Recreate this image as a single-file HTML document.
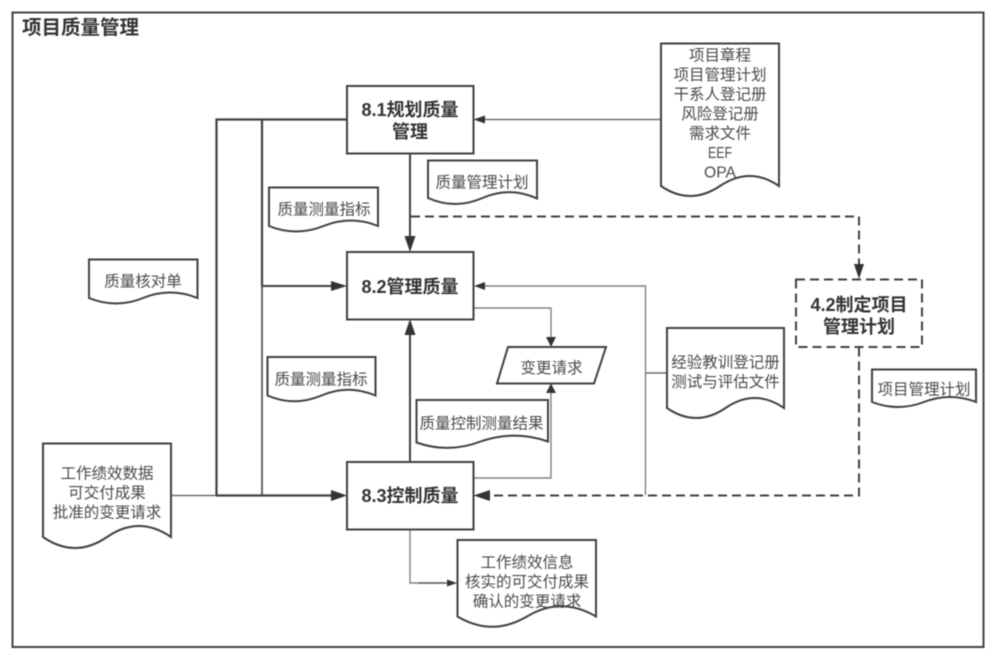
<!DOCTYPE html>
<html lang="zh"><head><meta charset="utf-8"><title>项目质量管理</title>
<style>
html,body{margin:0;padding:0;background:#fff}
svg{display:block;filter:blur(0.4px)}
text{font-family:"Liberation Sans","Noto Sans CJK SC",sans-serif;fill:#4a4a4a;font-size:15.5px;text-anchor:middle}
.b{font-weight:bold;font-size:18px;fill:#333}
.s{fill:none;stroke:#404040;stroke-width:2}
.t{fill:none;stroke:#555;stroke-width:1.2}
.g{fill:none;stroke:#808080;stroke-width:1.4}
.k{fill:none;stroke:#404040;stroke-width:2.2}
.d{fill:none;stroke:#404040;stroke-width:2;stroke-dasharray:9 5}
.a{fill:#333;stroke:none}
.n{fill:#fff;stroke:#404040;stroke-width:2}
</style></head><body>
<svg width="1000" height="656" viewBox="0 0 1000 656" xmlns="http://www.w3.org/2000/svg">
<rect x="0" y="0" width="1000" height="656" fill="#fff"/>
<rect x="12.5" y="12.5" width="971" height="634.5" fill="none" stroke="#444" stroke-width="2"/>
<text x="22" y="34" style="text-anchor:start;font-size:19.5px;font-weight:bold;fill:#333">项目质量管理</text>

<!-- connectors -->
<path class="t" d="M661 119.5H480"/>
<path class="a" d="M473.5 119.5L485 115.5V123.5Z"/>
<path class="k" d="M347 119.5H216.5V495.5"/>
<path class="k" d="M262 119.5V286"/>
<path class="s" d="M262 286V495.5" style="stroke:#555;stroke-width:1.8"/>
<path class="t" d="M171 495.5H216"/>
<path class="k" d="M216 495.5H335"/>
<path class="a" d="M347 495.5L331 490V501Z"/>
<path class="s" d="M262 286H335"/>
<path class="a" d="M347 286L331 281V291Z"/>
<path class="s" d="M410 153V240"/>
<path class="a" d="M410 252L404.500 236H415.500Z"/>
<path class="d" d="M411 216.500H859V266"/>
<path class="a" d="M859 279L854 264H864Z"/>
<path class="s" d="M410 462V331"/>
<path class="a" d="M410 319L404.500 335H415.500Z"/>
<path class="g" d="M473 308H551V340"/>
<path class="a" d="M551 347L546 337H556Z"/>
<path class="g" d="M473 478H551V391"/>
<path class="a" d="M551 383.500L546 393H556Z"/>
<path class="t" d="M667 373H645.500"/>
<path class="g" d="M645.500 495V286H482"/>
<path class="a" d="M474 286L485 282V290Z"/>
<path class="d" d="M859 347.500V495.500H490"/>
<path class="a" d="M473.500 495.500L490 490V501Z"/>
<path class="g" d="M410 529V583H445"/>
<path class="t" d="M418 583H447"/>
<path class="a" d="M457 583L447 579.500V586.500Z"/>

<!-- process boxes -->
<rect class="n" x="347" y="86" width="126.500" height="67.500"/>
<rect class="n" x="347" y="252" width="126.500" height="67.500"/>
<rect class="n" x="347" y="462" width="126.500" height="67.500"/>
<rect x="796" y="279.500" width="126" height="67.500" fill="#fff" stroke="#404040" stroke-width="2" stroke-dasharray="9 5"/>
<text class="b" x="410" y="116">8.1规划质量</text>
<text class="b" x="410" y="138">管理</text>
<text class="b" x="410" y="293">8.2管理质量</text>
<text class="b" x="410" y="502">8.3控制质量</text>
<text class="b" x="859" y="311">4.2制定项目</text>
<text class="b" x="859" y="333">管理计划</text>

<!-- parallelogram -->
<path class="n" d="M508 347H606L594 383.500H497Z"/>
<text x="551.500" y="373">变更请求</text>

<!-- documents -->
<path class="n" d="M661 43.500H779V186Q750 166 720 186Q690 206 661 186Z"/>
<text x="720" y="60.500">项目章程</text>
<text x="720" y="80">项目管理计划</text>
<text x="720" y="99.500">干系人登记册</text>
<text x="720" y="119">风险登记册</text>
<text x="720" y="138.500">需求文件</text>
<text x="720" y="158" textLength="24" lengthAdjust="spacingAndGlyphs">EEF</text>
<text x="720" y="177.500" textLength="32" lengthAdjust="spacingAndGlyphs">OPA</text>

<path class="n" d="M428 160.500H537V198.500Q510 186 482.500 198Q455 210 428 198Z"/>
<text x="482" y="187.500">质量管理计划</text>

<path class="n" d="M269 187.500H378V226Q351 215 323.500 226Q296 237 269 226Z"/>
<text x="324" y="214.500">质量测量指标</text>

<path class="n" d="M89 259.500H197.500V298Q170 287 143 298Q116 309 89 298Z"/>
<text x="143" y="286.500">质量核对单</text>

<path class="n" d="M267.500 357H375.500V395.500Q348 384 321.500 395.500Q294 407 267.500 395.500Z"/>
<text x="321" y="384.500">质量测量指标</text>

<path class="n" d="M416.500 400H548V441.500Q515 430 482 441Q449 454 416.500 442.500Z"/>
<text x="481.500" y="428.500">质量控制测量结果</text>

<path class="n" d="M43 443.500H171V537Q139 515 107 537Q75 559 43 537Z"/>
<text x="107" y="478.500">工作绩效数据</text>
<text x="107" y="498">可交付成果</text>
<text x="107" y="517.500">批准的变更请求</text>

<path class="n" d="M457.500 540H596V616.500Q561 596 527 616.500Q492 637 457.500 616.500Z"/>
<text x="527" y="567.500">工作绩效信息</text>
<text x="527" y="587">核实的可交付成果</text>
<text x="527" y="606.500">确认的变更请求</text>

<path class="n" d="M667 328H784V408Q755 388 725.500 408Q696 428 667 408Z"/>
<text x="725.500" y="367.500">经验教训登记册</text>
<text x="725.500" y="387">测试与评估文件</text>

<path class="n" d="M872 369.500H976V402Q950 392 924 402Q898 412 872 402Z"/>
<text x="924" y="394.500">项目管理计划</text>
</svg>
</body></html>
